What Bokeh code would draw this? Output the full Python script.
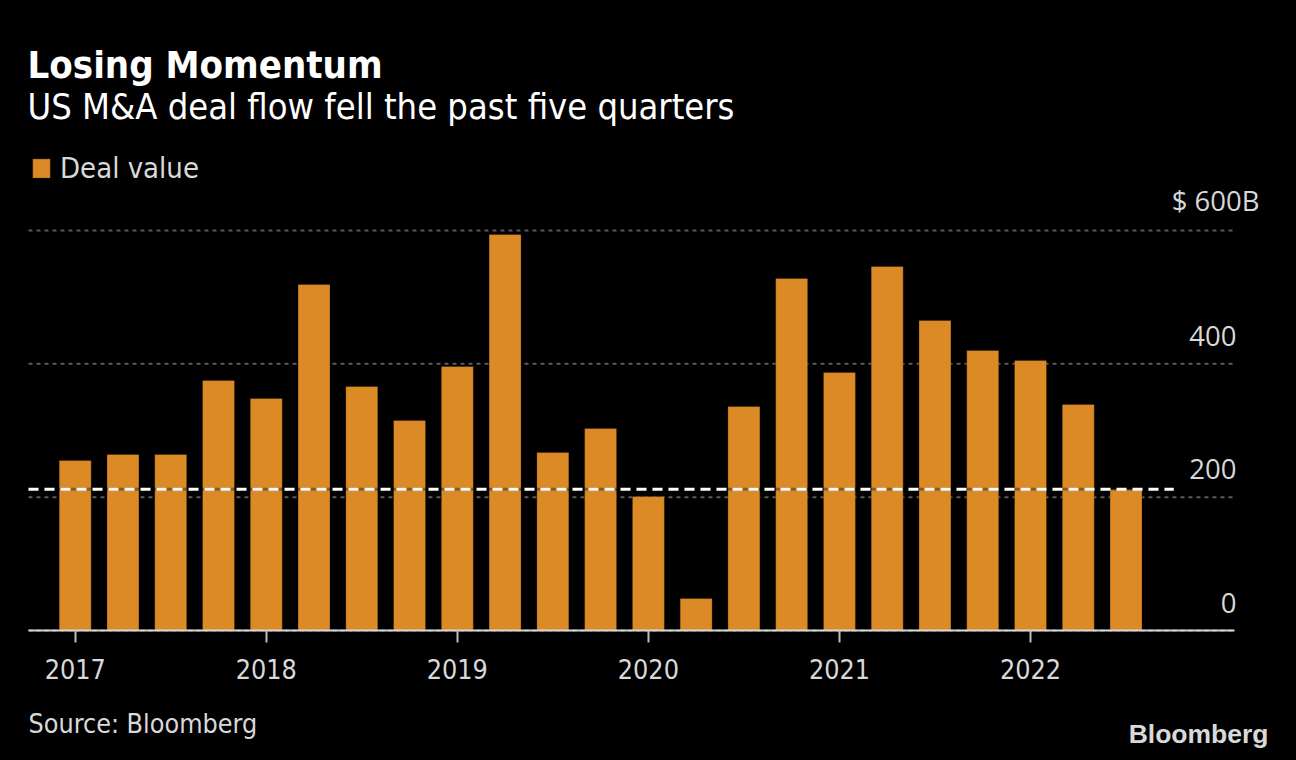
from bokeh.plotting import figure
from bokeh.models import (ColumnDataSource, FixedTicker, LabelSet, Legend,
                          LegendItem, Range1d)
from bokeh.core.properties import value
from bokeh.embed import file_html
from bokeh.resources import INLINE

# ---------------- data ----------------
quarters = ["2017 Q1", "2017 Q2", "2017 Q3", "2017 Q4",
            "2018 Q1", "2018 Q2", "2018 Q3", "2018 Q4",
            "2019 Q1", "2019 Q2", "2019 Q3", "2019 Q4",
            "2020 Q1", "2020 Q2", "2020 Q3", "2020 Q4",
            "2021 Q1", "2021 Q2", "2021 Q3", "2021 Q4",
            "2022 Q1", "2022 Q2", "2022 Q3"]
deal_value = [255, 264, 264, 375, 348, 519, 366, 315, 396, 594, 267, 303,
              201, 48, 336, 528, 387, 546, 465, 420, 405, 339, 212]
year_ticks = [2017, 2018, 2019, 2020, 2021, 2022]
year_labels = ["2017", "2018", "2019", "2020", "2021", "2022"]
y_ticks = [0, 200, 400, 600]
y_tick_labels = ["0", "200", "400", "$ 600B"]

title_text = "Losing Momentum"
subtitle_text = "US M&A deal flow fell the past five quarters"
legend_text = "Deal value"
source_text = "Source: Bloomberg"
logo_text = "Bloomberg"

# quarter start as fractional year
x_pos = [int(q[:4]) + (int(q[-1]) - 1) / 4 for q in quarters]

# ---------------- layout / styles ----------------
W, H = 1296, 760
BAR = "#DB8A26"
TXT = "#d9d9d9"
COND = "DejaVu Sans Condensed"
NUM = "Open Sans"

# pixel geometry of the plotting area (page pixels)
PX_2017, PX_PER_YEAR = 74.7, 191.06
PY_ZERO, PX_PER_UNIT = 630.0, 0.66667


def px_to_x(px):
    return 2017 + (px - PX_2017) / PX_PER_YEAR


def py_to_y(py):
    return (PY_ZERO - py) / PX_PER_UNIT


X_LEFT, X_RIGHT = px_to_x(28), px_to_x(1234)

p = figure(width=W, height=H, output_backend="svg", toolbar_location=None,
           x_range=Range1d(px_to_x(0), px_to_x(W)),
           y_range=Range1d(py_to_y(H), py_to_y(0)),
           min_border=0, min_border_left=0, min_border_right=0,
           min_border_top=0, min_border_bottom=0,
           background_fill_color="black", border_fill_color="black",
           outline_line_color=None)
p.title.visible = False
p.xgrid.visible = False
p.ygrid.visible = False
p.yaxis.visible = False

# grid lines (dotted) limited to the plotting area
p.segment(x0=X_LEFT, x1=X_RIGHT, y0=y_ticks, y1=y_ticks,
          line_color="#5c5c5c", line_dash="4 4", line_width=2)

# x axis fixed at zero
xa = p.xaxis[0]
xa.fixed_location = 0
xa.bounds = (X_LEFT, X_RIGHT)
xa.ticker = FixedTicker(ticks=year_ticks)
xa.major_label_overrides = {t: l for t, l in zip(year_ticks, year_labels)}
xa.axis_line_color = TXT
xa.axis_line_width = 2
xa.major_tick_line_color = "#bdbdbd"
xa.major_tick_line_width = 2
xa.major_tick_out = 12
xa.major_tick_in = 0
xa.minor_tick_out = 0
xa.minor_tick_in = 0
xa.major_label_text_font = COND
xa.major_label_text_font_size = "26.7px"
xa.major_label_text_color = TXT
xa.major_label_standoff = 16

# bars
src = ColumnDataSource(dict(x=x_pos, top=deal_value, q=quarters))
bars = p.vbar(x="x", top="top", bottom=0, width=32 / PX_PER_YEAR, source=src,
              fill_color=BAR, line_color="#000000", line_alpha=0.25, line_width=1)

# dashed reference line at latest value
last = deal_value[-1]
ref_x = [X_LEFT, x_pos[-1] + 0.25]
p.line(x=ref_x, y=[last, last], line_color="#000000", line_alpha=0.35, line_width=3)
p.line(x=ref_x, y=[last, last], line_color="#ffffff", line_width=3, line_dash="10 6")

# y tick labels (right side, above grid lines)
lab_src = ColumnDataSource(dict(x=[X_RIGHT] * (len(y_ticks) - 1), y=y_ticks[:-1],
                                text=y_tick_labels[:-1]))
p.add_layout(LabelSet(x="x", y="y", text="text", source=lab_src,
                      x_offset=2, y_offset=18, text_align="right",
                      text_baseline="alphabetic", text_font=value(NUM),
                      text_font_size="27.5px", text_color=TXT))
top_src = ColumnDataSource(dict(x=[X_RIGHT], y=y_ticks[-1:], text=y_tick_labels[-1:]))
p.add_layout(LabelSet(x="x", y="y", text="text", source=top_src,
                      x_offset=25, y_offset=19, text_align="right",
                      text_baseline="alphabetic", text_font=value(NUM),
                      text_font_size="27.5px", text_color=TXT))

# legend (vbar legend glyph is inset by 10% on each side)
legend = Legend(items=[LegendItem(label=legend_text, renderers=[bars])],
                location=(30, H - 185), orientation="horizontal", padding=0,
                margin=0, glyph_width=22, glyph_height=24, label_standoff=8,
                label_text_font=COND, label_text_font_size="29px",
                label_text_color=TXT, background_fill_alpha=0,
                border_line_alpha=0)
p.add_layout(legend)


def add_text(text, px, py, size, color, font, bold=False, align="left"):
    s = ColumnDataSource(dict(x=[px_to_x(px)], y=[py_to_y(py)], text=[text]))
    p.add_layout(LabelSet(x="x", y="y", text="text", source=s,
                          text_font=value(font), text_font_size=size,
                          text_color=color,
                          text_font_style="bold" if bold else "normal",
                          text_align=align, text_baseline="alphabetic"))


add_text(title_text, 27, 77, "38px", "#ffffff", COND, bold=True)
add_text(subtitle_text, 27, 118, "36px", "#ffffff", COND)
add_text(source_text, 28, 732, "26.7px", TXT, COND)
add_text(logo_text, 1268, 742, "26.5px", TXT, "Liberation Sans", bold=True,
         align="right")

html = file_html(p, INLINE)
i = html.rfind("<body")
if i >= 0:
    html = html[:i] + '<body style="background-color:#000000;"' + html[i + 5:]
open("out.html", "w").write(html)
